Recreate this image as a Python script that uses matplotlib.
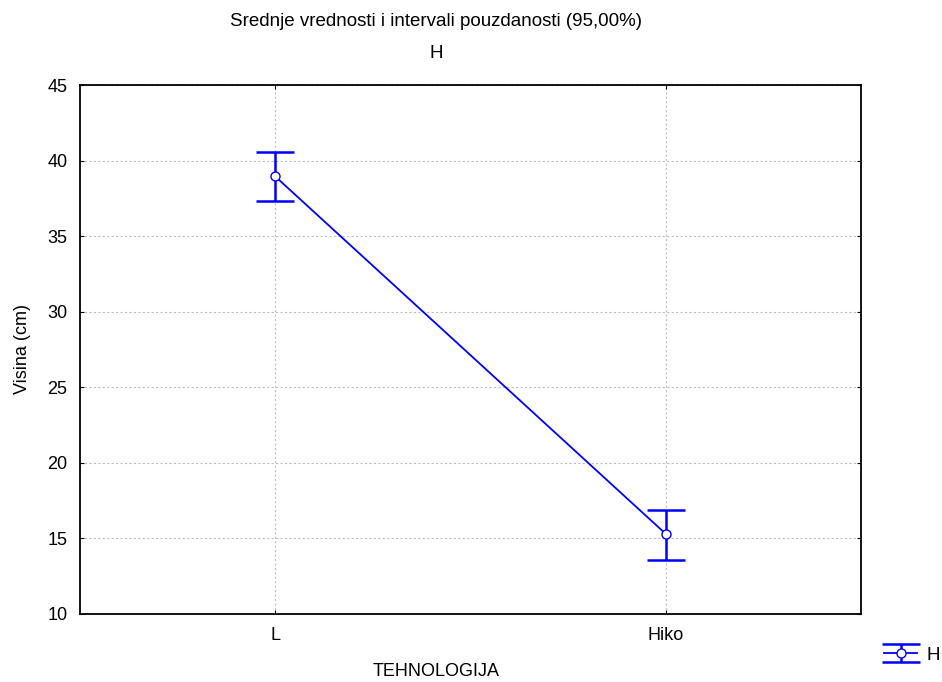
import numpy as np
import matplotlib.pyplot as plt

plt.rcParams['font.family'] = ['Liberation Sans', 'DejaVu Sans']

categories = ['L', 'Hiko']
means = [38.95, 15.3]
ci_low = [37.3, 13.6]
ci_high = [40.55, 16.9]
yticks = [10, 15, 20, 25, 30, 35, 40, 45]

means = np.array(means)
err = [means - np.array(ci_low), np.array(ci_high) - means]
x = np.arange(len(categories))

fig = plt.figure(figsize=(9.42, 6.82), dpi=100)
ax = fig.add_axes([80/942, 1 - 614/682, 781/942, 529/682])

cont = ax.errorbar(x, means, yerr=err, color='#0000ff', linewidth=1.3,
                   elinewidth=1.8, capsize=13.5, capthick=1.8,
                   marker='o', markersize=6.5, markerfacecolor='white',
                   markeredgecolor='#0000ff', label='H', zorder=3)
cont[0].set_markeredgewidth(1.0)

ax.set_xlim(-0.5, 1.5)
ax.set_ylim(10, 45)
ax.set_xticks(x)
ax.set_xticklabels(categories)
ax.set_yticks(yticks)
ax.grid(True, color='#c0c0c0', linestyle=(0, (2, 2)), linewidth=0.8)
ax.tick_params(direction='in', length=3, labelsize=13, top=True, right=True, pad=9)
for s in ax.spines.values():
    s.set_linewidth(1.3)

fig.text(0.463, 1 - 671/682, 'TEHNOLOGIJA', ha='center', va='center', fontsize=13)
ax.set_ylabel('Visina (cm)', fontsize=13, labelpad=12)
fig.text(0.463, 1 - 21/682, 'Srednje vrednosti i intervali pouzdanosti (95,00%)',
         ha='center', va='center', fontsize=13.5)
fig.text(0.463, 1 - 53/682, 'H', ha='center', va='center', fontsize=13.5)

fig.legend(loc='center', bbox_to_anchor=(912/942, 1 - 655/682), frameon=False,
           fontsize=13.5, handlelength=1.8, handletextpad=0.5)

fig.savefig('out.png', dpi=100)
